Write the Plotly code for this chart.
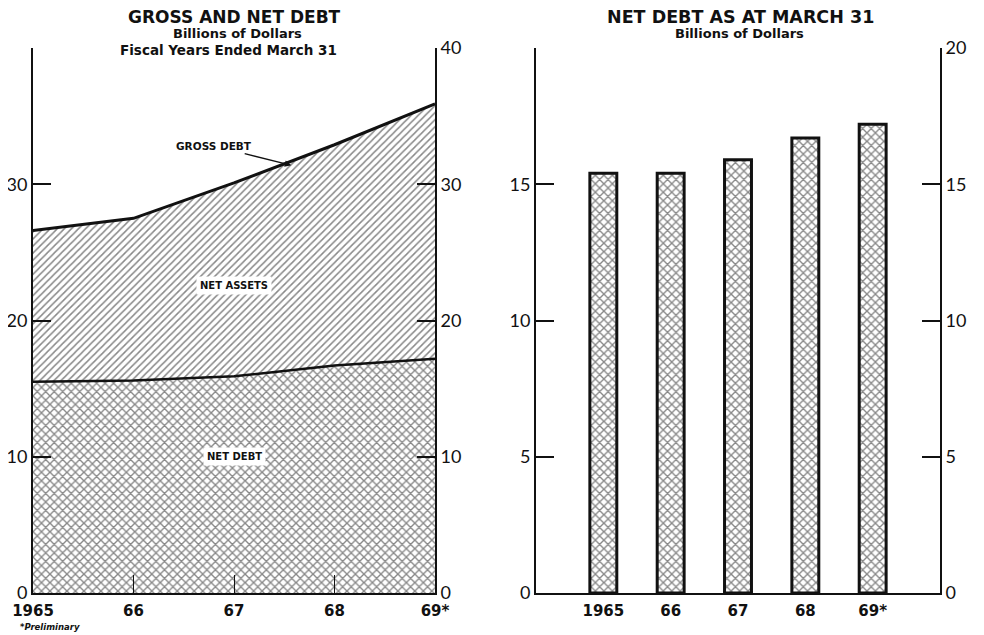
import plotly.graph_objects as go

# -------------------- DATA --------------------
years = [1965, 1966, 1967, 1968, 1969]
year_labels = ["1965", "66", "67", "68", "69*"]
gross_debt = [26.6, 27.5, 30.1, 32.9, 35.9]
net_debt = [15.5, 15.6, 15.9, 16.7, 17.2]

bar_labels = ["1965", "66", "67", "68", "69*"]
bar_net_debt = [15.4, 15.4, 15.9, 16.7, 17.2]

left_ticks = [0, 10, 20, 30, 40]
right_ticks = [0, 5, 10, 15, 20]

INK = "#111111"
NUM_FONT = "Lato"
BOLD_FONT = "DejaVu Sans"
W, H = 984, 635
PAD = 8  # page body margin around the figure


def px(x):
    return (x - PAD) / W


def py(y):
    return 1 - (y - PAD) / H


fig = go.Figure()

# -------------------- LEFT PANEL: AREAS --------------------
fig.add_trace(go.Scatter(
    x=years, y=net_debt,
    mode="lines",
    line=dict(color=INK, width=2.5),
    fill="tozeroy",
    fillcolor="white",
    fillpattern=dict(shape="x", fgcolor=INK, bgcolor="white", size=6, solidity=0.4),
    xaxis="x", yaxis="y",
    showlegend=False
))

fig.add_trace(go.Scatter(
    x=years, y=gross_debt,
    mode="lines",
    line=dict(color=INK, width=3),
    fill="tonexty",
    fillcolor="white",
    fillpattern=dict(shape="/", fgcolor=INK, bgcolor="white", size=5, solidity=0.3),
    xaxis="x", yaxis="y",
    showlegend=False
))

# invisible trace so the right-hand scale is drawn
fig.add_trace(go.Scatter(
    x=[years[0]], y=[0], mode="markers", marker=dict(opacity=0),
    xaxis="x", yaxis="y2", showlegend=False, hoverinfo="skip"
))

# -------------------- RIGHT PANEL: BARS --------------------
fig.add_trace(go.Bar(
    x=bar_labels, y=bar_net_debt,
    width=0.4,
    marker=dict(
        color="white",
        line=dict(color=INK, width=3),
        pattern=dict(shape="x", fgcolor=INK, bgcolor="white", size=6, solidity=0.4)
    ),
    xaxis="x2", yaxis="y3",
    showlegend=False
))

fig.add_trace(go.Scatter(
    x=[bar_labels[0]], y=[0], mode="markers", marker=dict(opacity=0),
    xaxis="x2", yaxis="y4", showlegend=False, hoverinfo="skip"
))

# -------------------- AXES --------------------
ydom = [py(593), py(48)]
tick_style = dict(ticks="inside", ticklen=18, tickwidth=1.5, tickcolor=INK,
                  showline=True, linecolor=INK, linewidth=2,
                  showgrid=False, zeroline=False, automargin=False,
                  tickfont=dict(family=NUM_FONT, size=18, color=INK))
year_font = dict(family=BOLD_FONT, size=15, color=INK)

fig.update_layout(
    xaxis=dict(domain=[px(33), px(435)], range=[1965, 1969],
               tickvals=years, ticktext=[f"<b>{t}</b>" for t in year_labels],
               ticks="inside", ticklen=18, tickwidth=1.2, tickcolor=INK,
               showline=True, linecolor=INK, linewidth=2, showgrid=False,
               zeroline=False, anchor="y", automargin=False,
               ticklabelstandoff=3, tickfont=year_font),
    yaxis=dict(domain=ydom, range=[0, 40], tickvals=left_ticks,
               ticktext=["0", "10", "20", "30", ""], side="left",
               anchor="x", **tick_style),
    yaxis2=dict(range=[0, 40], tickvals=left_ticks,
                ticktext=[str(v) for v in left_ticks], side="right",
                overlaying="y", anchor="x", **tick_style),
    xaxis2=dict(domain=[px(536), px(940)], range=[-1, 5],
                type="category", ticks="", showline=True, linecolor=INK,
                linewidth=2, showgrid=False, zeroline=False, anchor="y3",
                automargin=False, ticklabelstandoff=3,
                tickvals=bar_labels, ticktext=[f"<b>{t}</b>" for t in bar_labels],
                tickfont=year_font),
    yaxis3=dict(domain=ydom, range=[0, 20], tickvals=right_ticks,
                ticktext=["0", "5", "10", "15", ""], side="left",
                anchor="x2", **tick_style),
    yaxis4=dict(range=[0, 20], tickvals=right_ticks,
                ticktext=[str(v) for v in right_ticks], side="right",
                overlaying="y3", anchor="x2", **tick_style),
)

# -------------------- TEXT --------------------
def label(text, x, y, size, xref="paper", yref="paper", bg=None, italic=False):
    t = f"<b>{text}</b>"
    if italic:
        t = f"<i>{t}</i>"
    fig.add_annotation(text=t, x=x, y=y, xref=xref, yref=yref, showarrow=False,
                       xanchor="center", yanchor="middle",
                       font=dict(family=BOLD_FONT, size=size, color=INK),
                       bgcolor=bg, borderpad=3)


label("GROSS AND NET DEBT", px(234), py(17), 17)
label("Billions of Dollars", px(237), py(33), 13)
label("Fiscal Years Ended March 31", px(228), py(50), 13.5)

label("NET DEBT AS AT MARCH 31", px(740), py(17), 17.5)
label("Billions of Dollars", px(739), py(33), 13)

label("NET ASSETS", 1967.0, 22.6, 10, xref="x", yref="y", bg="white")
label("NET DEBT", 1967.0, 10.0, 10, xref="x", yref="y", bg="white")
label("*Preliminary", px(50), py(627), 8.5, italic=True)

fig.add_annotation(
    text="<b>GROSS DEBT</b>", x=1967.57, y=31.4, xref="x", yref="y",
    ax=-77, ay=-19, showarrow=True, arrowhead=2, arrowsize=1, arrowwidth=1.3,
    arrowcolor=INK, font=dict(family=BOLD_FONT, size=10.5, color=INK)
)

fig.update_layout(
    width=W, height=H,
    margin=dict(l=0, r=0, t=0, b=0),
    paper_bgcolor="white", plot_bgcolor="white",
    bargap=0.6
)

fig.write_html("out.html")
